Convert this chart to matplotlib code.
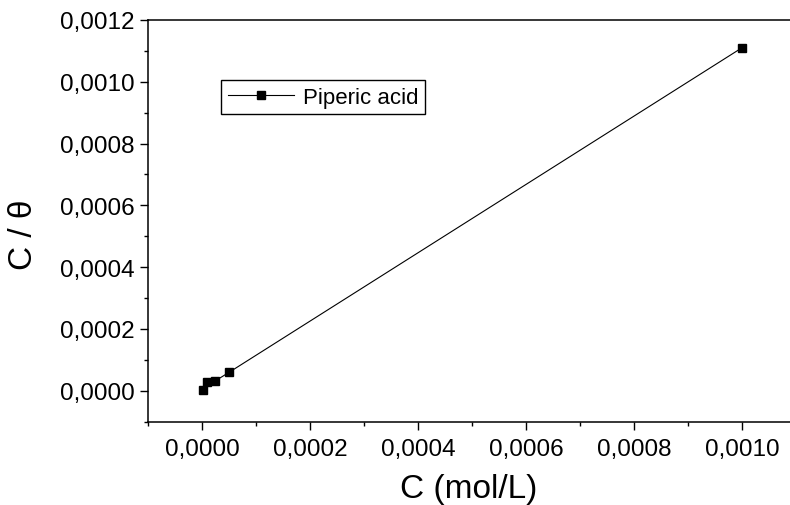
import matplotlib
matplotlib.use("Agg")
import matplotlib.pyplot as plt
from matplotlib.ticker import MultipleLocator, FuncFormatter

# Data
conc = [0.000001, 0.00001, 0.000025, 0.00005, 0.001]
c_over_theta = [0.000002, 0.000028, 0.000032, 0.000059, 0.00111]
series_label = "Piperic acid"

plt.rcParams["font.family"] = ["Liberation Sans", "DejaVu Sans"]

fig = plt.figure(figsize=(7.9, 5.06), dpi=100)
ax = fig.add_axes([0.1873, 0.165, 0.8127, 0.7935])

ax.plot(conc, c_over_theta, color="black", linewidth=0.8,
        marker="s", markersize=6, label=series_label)

ax.set_xlim(-0.0001, 0.001089)
ax.set_ylim(-0.0001, 0.0012)

# decimal comma on both axes
comma_fmt = FuncFormatter(lambda v, pos: f"{v:.4f}".replace(".", ","))
ax.xaxis.set_major_locator(MultipleLocator(0.0002))
ax.xaxis.set_minor_locator(MultipleLocator(0.0001))
ax.yaxis.set_major_locator(MultipleLocator(0.0002))
ax.yaxis.set_minor_locator(MultipleLocator(0.0001))
ax.xaxis.set_major_formatter(comma_fmt)
ax.yaxis.set_major_formatter(comma_fmt)

ax.tick_params(which="major", direction="out", length=6, width=1, labelsize=17.5,
               top=False, right=False)
ax.tick_params(which="minor", direction="out", length=3, width=1,
               top=False, right=False)
ax.tick_params(axis="x", pad=6)

ax.spines["right"].set_visible(False)
for side in ["left", "bottom", "top"]:
    ax.spines[side].set_linewidth(1.1)

ax.set_xlabel("C (mol/L)", fontsize=24, labelpad=9)
ax.set_ylabel("C / θ", fontsize=24)
ax.yaxis.set_label_coords(-0.169, 0.467)

leg = ax.legend(loc="upper left", bbox_to_anchor=(0.1137, 0.8506),
                borderaxespad=0, fontsize=16, fancybox=False,
                edgecolor="black", handlelength=3.0, framealpha=1,
                borderpad=0.3, handletextpad=0.4)
leg.get_frame().set_linewidth(1.0)

fig.savefig("out.png", dpi=100)
plt.close(fig)
